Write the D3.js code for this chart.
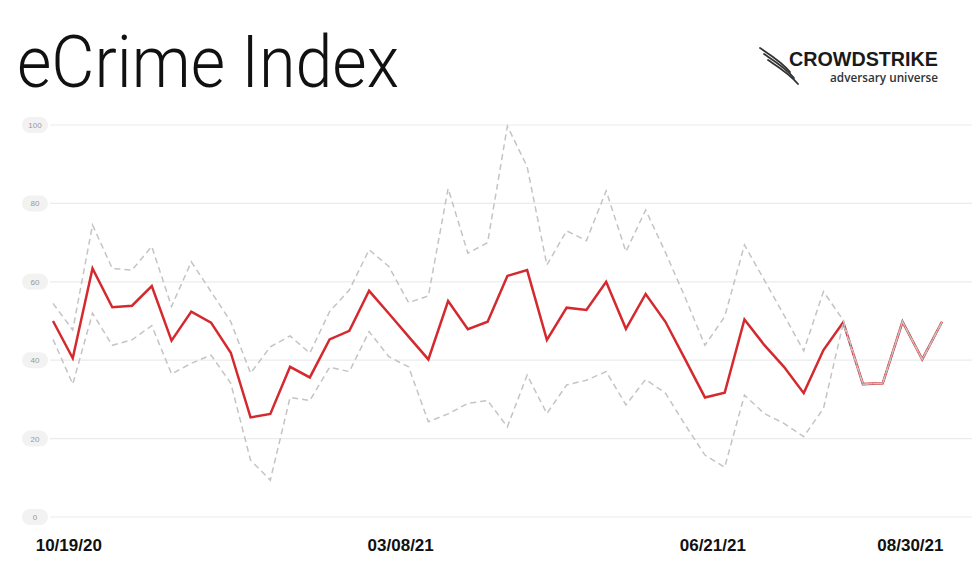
<!DOCTYPE html>
<html>
<head>
<meta charset="utf-8">
<script src="https://cdn.jsdelivr.net/npm/d3@7"></script>
<style>
  html, body { margin: 0; padding: 0; background: #ffffff; }
  svg { display: block; }
</style>
</head>
<body>
<svg id="chart" width="977" height="568"></svg>
<script>
// ---- data (weekly, 10/19/20 .. 08/30/21) ----
const weekIndex = d3.range(46);
const indexValues = [50, 40.5, 63.4, 53.5, 53.9, 58.9, 45, 52.4, 49.6, 41.9,
  25.4, 26.3, 38.3, 35.6, 45.3, 47.5, 57.7, 51.9, 46, 40.2,
  55.1, 47.9, 49.8, 61.5, 63, 45.2, 53.4, 52.8, 60, 48,
  56.9, 49.8, 40.2, 30.5, 31.7, 50.4, 43.9, 38.3, 31.6, 42.6,
  49.7, 33.9, 34.1, 49.8, 40.2, 49.8];
const upperValues = [54.5, 47.7, 74.5, 63.4, 63, 69, 53.7, 65.1, 57.5, 49.8,
  36.7, 43.4, 46.2, 41.8, 52.4, 57.9, 68.2, 63.9, 54.7, 56.4,
  83.8, 67.3, 70, 99.7, 89.4, 64.3, 73, 70.5, 83.2, 67.7,
  78.3, 67.5, 56, 43.8, 51.1, 69.4, 60.5, 51.5, 42.4, 57.5,
  50.2, 33.9, 34.1, 49.8, 40.2, 49.8];
const lowerValues = [45.3, 33.9, 52, 43.8, 45.2, 48.8, 36.5, 39.2, 41.3, 34.1,
  14.5, 9.4, 30.5, 29.7, 38.2, 37.1, 47.3, 40.9, 38.3, 24.3,
  26.3, 29, 29.7, 23, 36.2, 26.4, 33.7, 34.9, 37.1, 28.6,
  35.1, 31.6, 23.5, 15.8, 12.7, 31.1, 26.4, 23.9, 20.5, 27.7,
  49.4, 33.9, 34.1, 49.8, 40.2, 49.8];
const yTicks = [0, 20, 40, 60, 80, 100];
const xTickLabels = ['10/19/20', '03/08/21', '06/21/21', '08/30/21'];
const xTickWeeks = [0.8, 17.6, 33.4, 43.4];

// ---- layout ----
const svg = d3.select('#chart');
const x = d3.scaleLinear().domain([0, 45]).range([53, 942]);
const y = d3.scaleLinear().domain([0, 100]).range([517, 125]);

// title
svg.append('text')
  .attr('x', 17).attr('y', 87)
  .attr('font-family', 'Roboto, "Liberation Sans", sans-serif')
  .attr('font-weight', 300)
  .attr('font-size', 72)
  .attr('fill', '#111')
  .attr('textLength', 382)
  .attr('lengthAdjust', 'spacingAndGlyphs')
  .text('eCrime Index');

// logo
const logo = svg.append('g');
[[0, 0], [4, 6], [8, 12]].forEach(([dx, dy]) => {
  logo.append('path')
    .attr('d', `M${760 + dx},${48 + dy} C${772 + dx},${56 + dy} ${782 + dx},${62 + dy} ${790 + dx},${72 + dy}`)
    .attr('fill', 'none').attr('stroke', '#333').attr('stroke-width', 1.8)
    .attr('stroke-linecap', 'round');
});
logo.append('text')
  .attr('x', 789).attr('y', 66)
  .attr('font-family', '"Liberation Sans", Arial, sans-serif')
  .attr('font-weight', 900).attr('font-size', 21)
  .attr('fill', '#1a1a1a')
  .attr('textLength', 149).attr('lengthAdjust', 'spacingAndGlyphs')
  .text('CROWDSTRIKE');
logo.append('text')
  .attr('x', 830).attr('y', 82)
  .attr('font-family', '"Open Sans", "Liberation Sans", sans-serif')
  .attr('font-weight', 600).attr('font-size', 12)
  .attr('fill', '#333')
  .attr('textLength', 108).attr('lengthAdjust', 'spacingAndGlyphs')
  .text('adversary universe');

// gridlines and y labels
const grid = svg.append('g');
yTicks.forEach(t => {
  grid.append('line')
    .attr('x1', 50).attr('x2', 972)
    .attr('y1', y(t)).attr('y2', y(t))
    .attr('stroke', '#ebebeb').attr('stroke-width', 1.2);
  grid.append('rect')
    .attr('x', 22).attr('y', y(t) - 8)
    .attr('width', 26).attr('height', 16).attr('rx', 8)
    .attr('fill', '#f2f2f2');
  grid.append('text')
    .attr('x', 35).attr('y', y(t) + 3)
    .attr('text-anchor', 'middle')
    .attr('font-family', '"Liberation Sans", Arial, sans-serif')
    .attr('font-size', 8).attr('fill', '#999')
    .text(t);
});

// lines
const mk = vals => d3.line()
  .x((d, i) => x(weekIndex[i]))
  .y(d => y(d))(vals);

svg.append('path').attr('d', mk(indexValues))
  .attr('fill', 'none').attr('stroke', '#d42a2f').attr('stroke-width', 2.5)
  .attr('stroke-linejoin', 'miter');
[upperValues, lowerValues].forEach(v => {
  svg.append('path').attr('d', mk(v))
    .attr('fill', 'none').attr('stroke', '#c4c4c4').attr('stroke-width', 1.5)
    .attr('stroke-dasharray', '6,4');
});

// x labels
xTickLabels.forEach((lab, i) => {
  svg.append('text')
    .attr('x', x(xTickWeeks[i])).attr('y', 551)
    .attr('text-anchor', 'middle')
    .attr('font-family', '"Liberation Sans", Arial, sans-serif')
    .attr('font-weight', 700).attr('font-size', 17)
    .attr('fill', '#111')
    .text(lab);
});
</script>
</body>
</html>
